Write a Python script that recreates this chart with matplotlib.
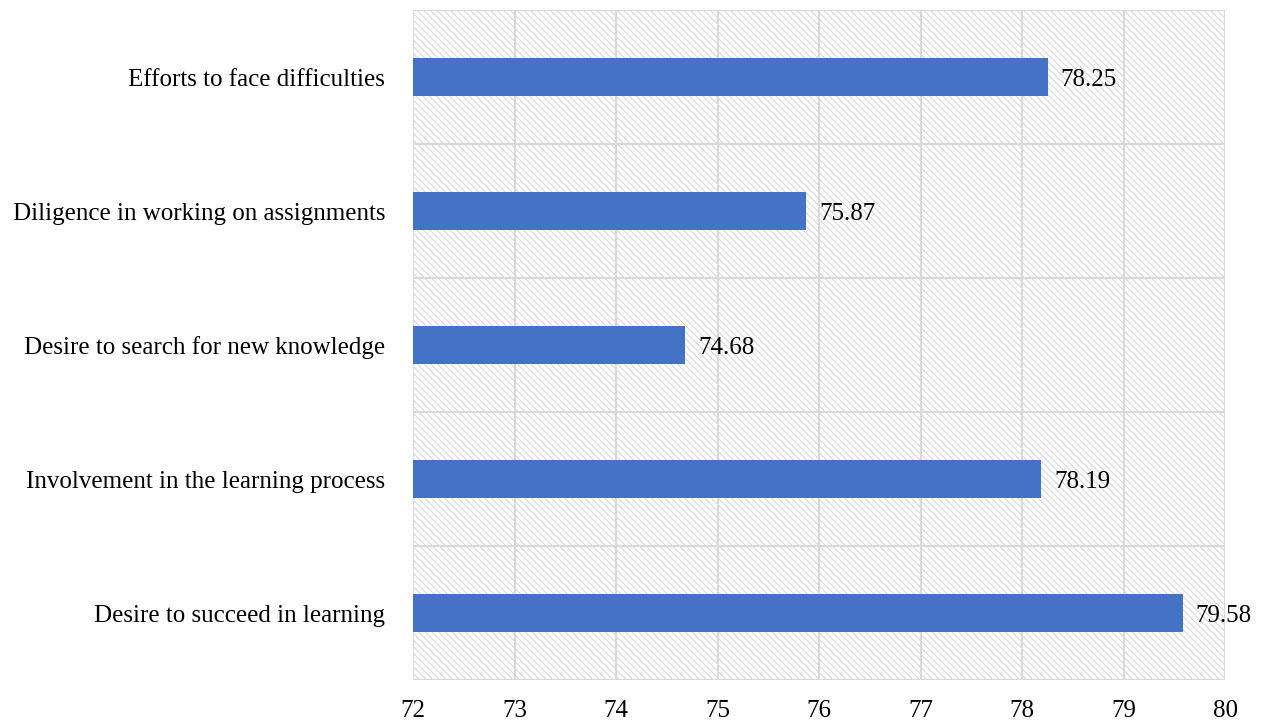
import matplotlib.pyplot as plt
from matplotlib.patches import Rectangle

categories = [
    "Desire to succeed in learning",
    "Involvement in the learning process",
    "Desire to search for new knowledge",
    "Diligence in working on assignments",
    "Efforts to face difficulties",
]
values = [79.58, 78.19, 74.68, 75.87, 78.25]
x_ticks = [72, 73, 74, 75, 76, 77, 78, 79, 80]

plt.rcParams['font.family'] = ['Liberation Serif', 'DejaVu Serif']
plt.rcParams['hatch.linewidth'] = 0.7

fig = plt.figure(figsize=(12.67, 7.22), dpi=100)
ax = fig.add_axes([0.326, 0.058, 0.641, 0.928])

# hatched background of the plot area
ax.add_patch(Rectangle((0, 0), 1, 1, transform=ax.transAxes, facecolor='white',
                       edgecolor='#d4d4d4', linewidth=0, hatch='\\' * 5, zorder=0))

y = list(range(len(categories)))
ax.barh(y, [v - x_ticks[0] for v in values], left=x_ticks[0], height=0.28,
        color='#4472c4', zorder=3)
for yi, v in zip(y, values):
    ax.text(v + 0.13, yi, f"{v:.2f}", va='center_baseline', ha='left', fontsize=18, zorder=4)

ax.set_xlim(x_ticks[0], x_ticks[-1])
ax.set_ylim(-0.5, len(categories) - 0.5)
ax.set_xticks(x_ticks)
ax.set_xticklabels([str(t) for t in x_ticks], fontsize=18)
ax.set_yticks(y)
ax.set_yticklabels(categories, fontsize=18, va='center_baseline')
ax.set_yticks([i - 0.5 for i in range(len(categories) + 1)], minor=True)

ax.tick_params(axis='both', length=0, which='both')
ax.tick_params(axis='y', pad=20)
ax.tick_params(axis='x', pad=14)
ax.grid(axis='x', which='major', color='#d9d9d9', linewidth=1.5, zorder=1)
ax.grid(axis='y', which='minor', color='#d9d9d9', linewidth=1.5, zorder=1)
for s in ax.spines.values():
    s.set_visible(False)
ax.set_axisbelow(True)

fig.savefig('out.png', dpi=100)
